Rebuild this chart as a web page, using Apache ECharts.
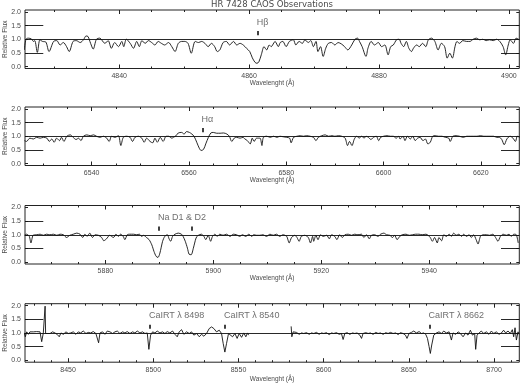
<!DOCTYPE html>
<html><head><meta charset="utf-8">
<script src="https://cdn.jsdelivr.net/npm/echarts@6/dist/echarts.min.js"></script>
<style>html,body{margin:0;padding:0;background:#fff}#c{width:520px;height:383px}</style>
</head><body><div id="c"></div>
<script>
const titleText = 'HR 7428 CAOS Observations';
const xAxisName = 'Wavelenght (Å)';
const yAxisName = 'Relative Flux';
const yTicks = [0, 0.5, 1, 1.5, 2];

const xRanges = [[4825.5, 4901.6], [6526.3, 6627.9], [5865.1, 5956.7], [8424.7, 8714.8]];
const majorTicks = [
  [4840, 4860, 4880, 4900],
  [6540, 6560, 6580, 6600, 6620],
  [5880, 5900, 5920, 5940],
  [8450, 8500, 8550, 8600, 8650, 8700]
];
const minorTicks = [
  [4830, 4835, 4845, 4850, 4855, 4865, 4870, 4875, 4885, 4890, 4895, 4900],
  [6530, 6535, 6545, 6550, 6555, 6565, 6570, 6575, 6585, 6590, 6595, 6605, 6610, 6615, 6625],
  [5870, 5875, 5885, 5890, 5895, 5905, 5910, 5915, 5925, 5930, 5935, 5945, 5950, 5955],
  [8430, 8440, 8460, 8470, 8480, 8490, 8510, 8520, 8530, 8540, 8560, 8570, 8580, 8590, 8610, 8620, 8630, 8640, 8660, 8670, 8680, 8690, 8710]
];

const lineWl = [[4861.33], [6562.8], [5889.95, 5895.92], [8498.02, 8542.09, 8662.14]];
const labelWl = [[4861.33], [6562.8], [5889.95], [8498.02, 8542.09, 8662.14]];
const labelText = [['Hβ'], ['Hα'], ['Na D1 & D2'], ['CaIRT λ 8498', 'CaIRT λ 8540', 'CaIRT λ 8662']];

const spec1 = [[4825.4,0.61],[4825.65,1.0],[4826.0,1.04],[4826.5,1.01],[4826.8,0.92],[4827.0,0.95],[4827.4,0.52],[4827.8,0.98],[4828.2,0.92],[4828.7,0.90],[4829.2,0.55],[4829.9,0.92],[4830.4,0.95],[4830.9,0.79],[4831.4,0.88],[4831.9,0.73],[4832.3,0.55],[4832.9,0.92],[4833.4,0.95],[4834.0,0.88],[4834.5,0.98],[4834.9,1.12],[4835.2,1.10],[4835.6,0.85],[4836.0,0.64],[4836.5,1.0],[4837.0,1.04],[4837.8,0.85],[4838.3,0.95],[4838.8,0.67],[4839.3,0.88],[4839.9,0.73],[4840.4,0.92],[4840.7,0.73],[4841.1,1.0],[4841.7,0.85],[4842.2,0.67],[4842.7,0.92],[4843.1,0.73],[4843.5,0.95],[4844.0,0.85],[4844.5,0.95],[4845.0,0.88],[4845.5,0.79],[4846.0,0.92],[4846.5,0.85],[4847.0,0.79],[4847.6,0.88],[4848.1,0.73],[4848.6,0.55],[4849.1,0.85],[4849.6,0.92],[4850.1,0.92],[4850.6,0.85],[4851.1,0.49],[4851.7,0.92],[4852.2,0.88],[4852.7,0.92],[4853.2,0.85],[4853.7,0.73],[4854.2,0.85],[4854.7,0.73],[4855.1,0.55],[4855.5,0.61],[4856.0,0.88],[4856.5,0.92],[4857.0,0.79],[4857.6,0.92],[4858.1,0.79],[4858.6,0.85],[4859.1,0.79],[4859.6,0.67],[4860.1,0.55],[4860.5,0.32],[4860.9,0.16],[4861.2,0.12],[4861.5,0.17],[4861.9,0.45],[4862.3,0.73],[4862.7,0.61],[4863.1,0.79],[4863.4,0.73],[4864.0,0.92],[4864.5,0.73],[4864.8,0.88],[4865.2,0.92],[4865.7,0.73],[4866.2,0.92],[4866.8,0.98],[4867.2,0.79],[4867.7,0.92],[4868.2,0.85],[4868.6,0.98],[4869.1,0.88],[4869.5,0.95],[4869.9,0.73],[4870.3,0.92],[4870.6,0.55],[4871.0,0.73],[4871.4,0.37],[4871.8,0.67],[4872.2,0.85],[4872.7,0.88],[4873.2,0.79],[4873.7,0.88],[4874.2,0.83],[4874.7,0.73],[4875.2,0.61],[4875.8,0.79],[4876.3,1.0],[4876.7,1.04],[4877.0,0.92],[4877.4,0.73],[4878.0,0.37],[4878.3,0.67],[4878.8,0.92],[4879.3,0.79],[4879.9,0.88],[4880.4,0.73],[4880.9,0.79],[4881.4,0.43],[4881.8,0.73],[4882.2,0.79],[4882.7,0.98],[4883.1,1.0],[4883.4,0.85],[4883.8,0.73],[4884.2,0.92],[4884.6,0.67],[4885.0,0.55],[4885.3,0.67],[4885.8,0.79],[4886.2,0.73],[4886.7,0.85],[4887.2,0.73],[4887.6,0.98],[4888.1,1.04],[4888.6,0.92],[4889.1,0.61],[4889.6,0.85],[4890.1,0.73],[4890.5,0.31],[4890.9,0.49],[4891.3,0.31],[4891.7,0.73],[4892.0,0.92],[4892.4,0.85],[4892.9,0.95],[4893.5,0.92],[4894.0,0.92],[4894.5,1.0],[4895.0,1.04],[4895.5,0.98],[4896.0,1.0],[4896.5,0.95],[4897.0,0.98],[4897.6,0.95],[4898.1,1.0],[4898.6,0.92],[4899.1,0.73],[4899.5,0.43],[4899.9,0.79],[4900.2,0.98],[4900.7,0.85],[4901.1,1.04],[4901.6,0.98]];

const spec2 = [[6526.2,0.84],[6526.6,0.81],[6527.3,0.93],[6528.0,0.90],[6528.7,0.96],[6529.4,0.93],[6530.1,0.96],[6530.8,0.93],[6531.3,0.81],[6531.8,0.90],[6532.3,0.78],[6532.8,0.93],[6533.4,0.84],[6533.8,0.96],[6534.3,0.81],[6534.9,1.0],[6535.6,1.05],[6536.2,0.96],[6536.8,0.88],[6537.3,0.93],[6537.8,0.84],[6538.3,1.0],[6539.0,1.05],[6539.7,1.02],[6540.4,1.05],[6541.0,1.0],[6541.7,0.96],[6542.4,1.0],[6543.1,0.93],[6543.6,0.81],[6544.1,1.0],[6544.8,0.96],[6545.5,1.02],[6546.0,0.66],[6546.5,0.96],[6547.2,1.0],[6547.9,0.96],[6548.4,0.81],[6548.9,0.96],[6549.6,1.0],[6550.3,0.93],[6550.8,0.78],[6551.3,0.93],[6552.0,0.81],[6552.55,0.76],[6553.0,0.93],[6553.5,0.78],[6554.1,0.96],[6554.7,0.81],[6555.3,1.0],[6555.8,1.0],[6556.5,0.93],[6556.8,0.96],[6557.35,1.02],[6557.8,1.12],[6558.5,1.14],[6559.0,1.08],[6559.5,1.17],[6560.1,1.14],[6560.6,1.08],[6561.05,1.0],[6561.6,0.78],[6562.1,0.57],[6562.5,0.48],[6563.0,0.52],[6563.45,0.72],[6564.0,0.96],[6564.5,1.12],[6565.0,1.14],[6565.7,1.11],[6566.4,1.11],[6567.1,1.12],[6567.8,1.08],[6568.3,1.0],[6568.8,0.81],[6569.3,0.93],[6569.8,0.96],[6570.5,0.93],[6571.1,0.96],[6571.5,0.90],[6572.0,0.84],[6572.6,0.72],[6573.0,0.93],[6573.4,0.81],[6573.9,0.93],[6574.6,0.93],[6575.0,0.66],[6575.3,0.96],[6576.0,1.0],[6576.7,0.96],[6577.4,1.0],[6578.1,0.96],[6578.7,1.0],[6579.4,0.98],[6580.1,0.96],[6580.7,0.93],[6581.0,0.76],[6581.5,0.96],[6582.2,1.0],[6582.9,1.02],[6583.5,1.0],[6584.2,1.02],[6584.9,1.0],[6585.6,0.96],[6586.1,0.84],[6586.6,0.96],[6587.3,1.02],[6588.0,1.05],[6588.7,1.0],[6589.4,1.02],[6590.0,1.0],[6590.7,1.02],[6591.4,1.0],[6592.1,0.93],[6592.6,0.66],[6593.0,0.81],[6593.5,0.66],[6594.0,0.90],[6594.5,1.0],[6595.0,0.93],[6595.5,1.0],[6596.0,0.93],[6596.4,1.0],[6596.9,0.96],[6597.4,0.88],[6597.9,0.96],[6598.5,1.0],[6599.0,0.84],[6599.4,0.96],[6600.0,1.0],[6600.7,1.02],[6601.4,1.0],[6602.0,1.0],[6602.6,0.93],[6603.1,1.0],[6603.4,0.90],[6604.0,1.0],[6604.4,0.84],[6604.9,1.0],[6605.5,0.90],[6606.0,1.0],[6606.5,0.84],[6607.0,0.93],[6607.5,0.96],[6608.1,0.84],[6608.6,0.90],[6609.1,0.72],[6609.6,0.78],[6610.1,1.0],[6610.6,1.02],[6611.3,1.0],[6612.0,1.0],[6612.7,0.96],[6613.4,0.93],[6613.7,0.81],[6614.25,1.0],[6614.9,1.02],[6615.6,1.0],[6616.4,0.96],[6617.1,1.0],[6617.8,1.0],[6618.5,1.0],[6619.2,1.0],[6619.9,1.02],[6620.6,1.0],[6621.2,1.0],[6621.9,1.0],[6622.6,1.0],[6623.3,0.96],[6623.8,0.96],[6624.3,0.88],[6624.8,0.69],[6625.35,0.90],[6626.0,1.0],[6626.6,0.93],[6627.1,0.81],[6627.5,1.0],[6628.0,0.96]];

const spec3 = [[5865.0,0.98],[5865.4,1.02],[5865.9,0.94],[5866.2,0.70],[5866.6,0.98],[5867.3,1.0],[5867.9,1.02],[5868.5,0.98],[5869.1,1.02],[5869.7,1.0],[5870.35,1.02],[5871.0,0.98],[5871.6,1.02],[5872.2,1.0],[5872.8,0.90],[5873.4,0.98],[5874.05,1.02],[5874.7,1.06],[5875.3,1.02],[5875.8,0.90],[5876.2,1.02],[5876.6,0.94],[5877.1,1.06],[5877.6,0.90],[5878.1,1.0],[5878.7,0.98],[5879.3,0.90],[5879.7,0.78],[5880.2,0.85],[5880.8,0.98],[5881.5,0.90],[5881.95,1.02],[5882.4,0.94],[5882.8,1.02],[5883.3,0.94],[5883.6,0.82],[5884.05,1.0],[5884.5,1.02],[5885.2,1.02],[5885.8,1.0],[5886.3,1.02],[5886.7,0.94],[5887.1,0.98],[5887.6,0.90],[5888.1,0.82],[5888.6,0.63],[5889.0,0.39],[5889.4,0.21],[5889.75,0.17],[5890.1,0.33],[5890.6,0.76],[5891.0,0.94],[5891.5,1.0],[5891.8,0.85],[5892.1,0.76],[5892.45,0.94],[5892.9,1.02],[5893.5,1.06],[5894.1,1.02],[5894.4,0.94],[5894.8,0.76],[5895.2,0.51],[5895.5,0.29],[5895.9,0.27],[5896.3,0.51],[5896.8,0.88],[5897.2,0.98],[5897.8,1.02],[5898.25,0.94],[5898.6,0.82],[5899.05,0.98],[5899.5,0.76],[5899.85,0.94],[5900.3,1.02],[5900.7,0.94],[5901.2,1.02],[5901.8,0.98],[5902.45,1.02],[5903.1,0.94],[5903.7,1.02],[5904.3,1.0],[5904.9,0.94],[5905.4,1.0],[5906.0,0.94],[5906.6,1.02],[5907.1,0.94],[5907.5,1.0],[5908.0,0.98],[5908.6,0.98],[5909.2,1.0],[5909.85,0.94],[5910.5,1.02],[5911.1,0.98],[5911.7,1.02],[5912.3,0.94],[5912.9,1.0],[5913.6,0.94],[5914.05,0.70],[5914.5,0.90],[5915.1,0.98],[5915.5,0.90],[5915.9,0.76],[5916.3,0.94],[5916.95,0.98],[5917.6,0.90],[5918.0,0.70],[5918.4,0.94],[5918.6,0.76],[5919.0,0.98],[5919.4,0.82],[5919.85,1.0],[5920.35,0.94],[5921.0,0.98],[5921.5,0.85],[5921.9,1.0],[5922.5,0.94],[5922.9,0.82],[5923.4,1.0],[5923.9,0.90],[5924.4,1.0],[5925.0,1.02],[5925.6,0.98],[5926.2,1.02],[5926.8,1.0],[5927.45,1.02],[5927.9,0.90],[5928.4,1.0],[5928.9,0.85],[5929.3,0.98],[5929.9,1.0],[5930.5,0.94],[5931.0,1.02],[5931.6,1.06],[5932.1,1.0],[5932.7,0.98],[5933.2,0.90],[5933.6,0.98],[5934.05,0.82],[5934.55,0.94],[5935.0,1.0],[5935.7,1.02],[5936.3,0.98],[5936.9,1.0],[5937.5,1.02],[5938.1,1.02],[5938.7,1.0],[5939.4,1.02],[5939.8,0.98],[5940.2,0.90],[5940.6,0.76],[5941.0,0.90],[5941.5,0.70],[5941.8,0.90],[5942.3,0.78],[5942.7,1.0],[5943.2,0.94],[5943.7,1.02],[5944.1,0.94],[5944.55,1.06],[5945.0,0.98],[5945.5,1.02],[5946.0,0.94],[5946.4,1.02],[5946.9,0.94],[5947.4,1.0],[5947.8,0.90],[5948.25,1.0],[5948.7,0.82],[5949.05,0.66],[5949.5,0.94],[5950.0,1.0],[5950.6,1.0],[5951.2,0.98],[5951.8,1.02],[5952.3,0.90],[5952.75,0.76],[5953.2,0.94],[5953.7,1.02],[5954.3,0.98],[5954.8,1.02],[5955.2,0.94],[5955.7,1.02],[5956.15,1.0],[5956.5,0.70]];

const spec4a = [[8424.3,1.0],[8424.9,0.86],[8425.7,1.04],[8426.7,0.95],[8427.6,1.04],[8428.6,0.98],[8429.6,1.04],[8430.6,1.0],[8431.5,1.05],[8432.5,0.98],[8433.5,1.04],[8434.5,0.68],[8435.45,1.0],[8436.2,1.0],[8436.5,1.98],[8436.8,0.98],[8437.8,1.04],[8439.4,0.98],[8440.9,1.04],[8442.3,1.0],[8443.7,0.94],[8444.8,0.86],[8445.8,1.0],[8447.2,0.95],[8448.75,1.04],[8450.1,0.98],[8451.5,1.0],[8453.05,1.04],[8454.6,0.95],[8456.0,1.04],[8457.35,1.0],[8458.9,1.07],[8460.5,0.98],[8461.85,1.02],[8463.2,1.0],[8464.8,1.05],[8466.3,0.98],[8467.9,0.64],[8468.7,1.0],[8470.25,1.04],[8471.6,0.95],[8473.0,1.07],[8474.55,1.04],[8476.1,0.98],[8477.5,1.04],[8478.85,1.07],[8480.4,0.98],[8482.0,1.04],[8483.35,1.0],[8484.7,1.05],[8486.3,0.98],[8487.85,1.04],[8489.2,1.0],[8490.6,1.07],[8492.15,1.0],[8493.7,1.04],[8495.1,0.98],[8496.45,1.0],[8497.4,0.40],[8498.4,0.92],[8499.6,1.04],[8500.95,1.0],[8502.3,1.07],[8503.9,1.0],[8505.45,1.04],[8506.8,0.98],[8508.2,1.05],[8509.7,1.0],[8511.3,1.07],[8512.7,0.95],[8514.05,0.86],[8515.2,1.04],[8516.6,1.12],[8517.95,0.95],[8519.5,1.04],[8521.1,0.98],[8522.45,1.04],[8523.8,0.92],[8525.4,0.98],[8527.0,0.86],[8528.3,0.95],[8529.7,0.88],[8531.25,0.98],[8532.8,1.16],[8534.2,1.22],[8535.55,1.16],[8537.1,1.04],[8538.7,1.10],[8540.05,0.98],[8541.0,0.62],[8542.0,0.30],[8543.0,0.62],[8544.15,0.98],[8545.3,1.0],[8546.5,0.86],[8547.9,0.98],[8549.2,0.80],[8550.4,0.98],[8551.8,0.84],[8553.1,1.0],[8554.3,0.86],[8555.3,1.0],[8555.9,0.92]];

const spec4b = [[8580.9,1.24],[8581.3,0.86],[8582.1,1.04],[8583.1,0.98],[8584.0,1.02],[8585.6,0.95],[8587.0,1.0],[8588.3,0.98],[8589.9,1.01],[8591.5,0.95],[8592.8,1.0],[8594.2,0.98],[8595.8,1.02],[8597.3,0.95],[8598.7,1.0],[8600.1,0.98],[8601.6,1.01],[8603.2,0.94],[8604.6,1.0],[8605.9,0.98],[8607.5,1.01],[8609.1,0.95],[8610.4,0.98],[8611.4,0.76],[8612.4,0.98],[8613.75,1.01],[8615.3,0.95],[8616.9,1.0],[8618.25,0.98],[8619.6,1.0],[8621.2,0.92],[8622.2,0.80],[8623.1,0.98],[8624.7,1.01],[8626.1,0.98],[8627.4,1.0],[8629.0,0.95],[8630.6,1.02],[8631.9,0.98],[8633.3,1.0],[8634.9,0.95],[8636.4,1.01],[8637.8,0.98],[8639.2,1.02],[8640.7,0.98],[8642.3,1.0],[8643.7,0.94],[8645.0,1.01],[8646.6,0.98],[8648.0,0.92],[8648.9,0.80],[8650.1,0.98],[8651.5,1.02],[8652.85,1.07],[8654.4,1.0],[8656.0,1.05],[8657.35,0.98],[8658.7,1.0],[8659.9,0.95],[8660.9,0.80],[8661.85,0.50],[8662.6,0.25],[8663.4,0.56],[8664.6,0.92],[8666.15,1.0],[8667.7,1.04],[8669.1,0.98],[8670.45,1.07],[8672.0,1.0],[8673.6,1.04],[8674.95,0.74],[8675.9,1.0],[8677.5,0.95],[8678.9,1.04],[8680.2,0.98],[8681.8,0.86],[8683.35,1.0],[8684.7,0.92],[8686.1,1.10],[8687.3,0.92],[8688.6,0.98],[8689.2,0.40],[8690.0,0.92],[8691.2,1.0],[8692.5,1.07],[8693.9,0.98],[8695.5,1.04],[8697.0,0.95],[8698.4,1.07],[8699.8,0.98],[8701.3,1.04],[8702.9,0.95],[8704.3,1.0],[8705.6,1.10],[8706.8,1.0],[8708.2,1.07],[8709.55,0.98],[8710.7,1.12],[8711.5,0.86],[8712.3,1.19],[8713.1,0.74],[8714.05,1.04],[8714.6,0.95]];

const spectra = [[spec1], [spec2], [spec3], [spec4a, spec4b]];
const smoothness = [0.3, 0.3, 0.25, 0];

const gridTops = [10, 107, 205.5, 303.7];
const gridHeight = 58.5;
const textColor = '#4a4a4a';
const inkColor = '#111';
const FONT = 'Liberation Sans, Arial, sans-serif';

const grids = [], xAxes = [], yAxes = [], series = [];
for (let i = 0; i < 4; i++) {
  grids.push({left: 25, right: 0.7, top: gridTops[i], height: gridHeight, show: true,
    containLabel: false, outerBoundsMode: 'none',
    borderColor: '#222', borderWidth: 1, backgroundColor: 'transparent'});
  const [mn, mx] = xRanges[i];
  const base = {type: 'value', gridIndex: i, min: mn, max: mx, splitLine: {show: false},
    axisLine: {show: false, onZero: false}};
  xAxes.push(Object.assign({}, base, {position: 'bottom',
    axisLabel: {customValues: majorTicks[i], color: textColor, fontSize: 7, margin: 4, fontFamily: FONT,
      formatter: v => String(v)},
    axisTick: {customValues: majorTicks[i], inside: true, length: 4, lineStyle: {color: '#222'}},
    name: xAxisName, nameLocation: 'middle', nameGap: i === 3 ? 13.5 : 11, nameMoveOverlap: false,
    nameTextStyle: {color: textColor, fontSize: 6.5, fontFamily: FONT}}));
  xAxes.push(Object.assign({}, base, {position: 'bottom', axisLabel: {show: false},
    axisTick: {customValues: minorTicks[i], inside: true, length: 2, lineStyle: {color: '#222'}}}));
  xAxes.push(Object.assign({}, base, {position: 'top', axisLabel: {show: false},
    axisTick: {customValues: majorTicks[i], inside: true, length: 4, lineStyle: {color: '#222'}}}));
  xAxes.push(Object.assign({}, base, {position: 'top', axisLabel: {show: false},
    axisTick: {customValues: minorTicks[i], inside: true, length: 2, lineStyle: {color: '#222'}}}));
  const ybase = {type: 'value', gridIndex: i, min: -0.07, max: 2.07, splitLine: {show: false},
    axisLine: {show: false, onZero: false}};
  yAxes.push(Object.assign({}, ybase, {position: 'left',
    axisLabel: {customValues: yTicks, color: textColor, fontSize: 7, margin: 4, fontFamily: FONT,
      formatter: v => v.toFixed(1)},
    axisTick: {customValues: yTicks, inside: true, length: 3, lineStyle: {color: '#222'}},
    name: yAxisName, nameLocation: 'middle', nameGap: 16, nameMoveOverlap: false,
    nameTextStyle: {color: textColor, fontSize: 6.5, fontFamily: FONT}}));
  yAxes.push(Object.assign({}, ybase, {position: 'right', axisLabel: {show: false},
    axisTick: {customValues: yTicks, inside: true, length: 3, lineStyle: {color: '#222'}}}));

  const span = mx - mn;
  const seg = 0.037 * span;
  const refLines = [
    {yAxis: 1},
    [{coord: [mn, 0.5]}, {coord: [mn + seg, 0.5]}],
    [{coord: [mn, 1.5]}, {coord: [mn + seg, 1.5]}],
    [{coord: [mx - seg, 0.5]}, {coord: [mx, 0.5]}],
    [{coord: [mx - seg, 1.5]}, {coord: [mx, 1.5]}]
  ];
  const markerLines = lineWl[i].map(w => [{coord: [w, 1.15], lineStyle: {width: 1.6}}, {coord: [w, 1.3]}]);
  spectra[i].forEach((sp, k) => {
    series.push({type: 'line', xAxisIndex: 4 * i, yAxisIndex: 2 * i, data: sp, showSymbol: false,
      smooth: smoothness[i], lineStyle: {color: inkColor, width: 0.9}, animation: false, silent: true,
      markLine: k === 0 ? {silent: true, symbol: 'none', animation: false, label: {show: false},
        lineStyle: {color: inkColor, type: 'solid', width: 0.9}, emphasis: {disabled: true},
        data: refLines.concat(markerLines)} : undefined});
  });
  series.push({type: 'scatter', xAxisIndex: 4 * i, yAxisIndex: 2 * i, symbolSize: 0, silent: true,
    animation: false,
    data: labelWl[i].map((w, j) => ({value: [w, 1.62], name: labelText[i][j]})),
    label: {show: true, position: 'right', distance: -1, formatter: p => p.name,
      color: textColor, fontSize: 9, fontFamily: FONT}});
}

const chart = echarts.init(document.getElementById('c'), null, {renderer: 'canvas'});
chart.setOption({
  animation: false,
  graphic: [{type: 'text', x: 272, y: 5, style: {text: titleText, fill: textColor, fontSize: 8.5,
    fontFamily: 'DejaVu Sans, sans-serif', textAlign: 'center', textVerticalAlign: 'middle'}}],
  grid: grids, xAxis: xAxes, yAxis: yAxes, series: series
});
</script></body></html>
